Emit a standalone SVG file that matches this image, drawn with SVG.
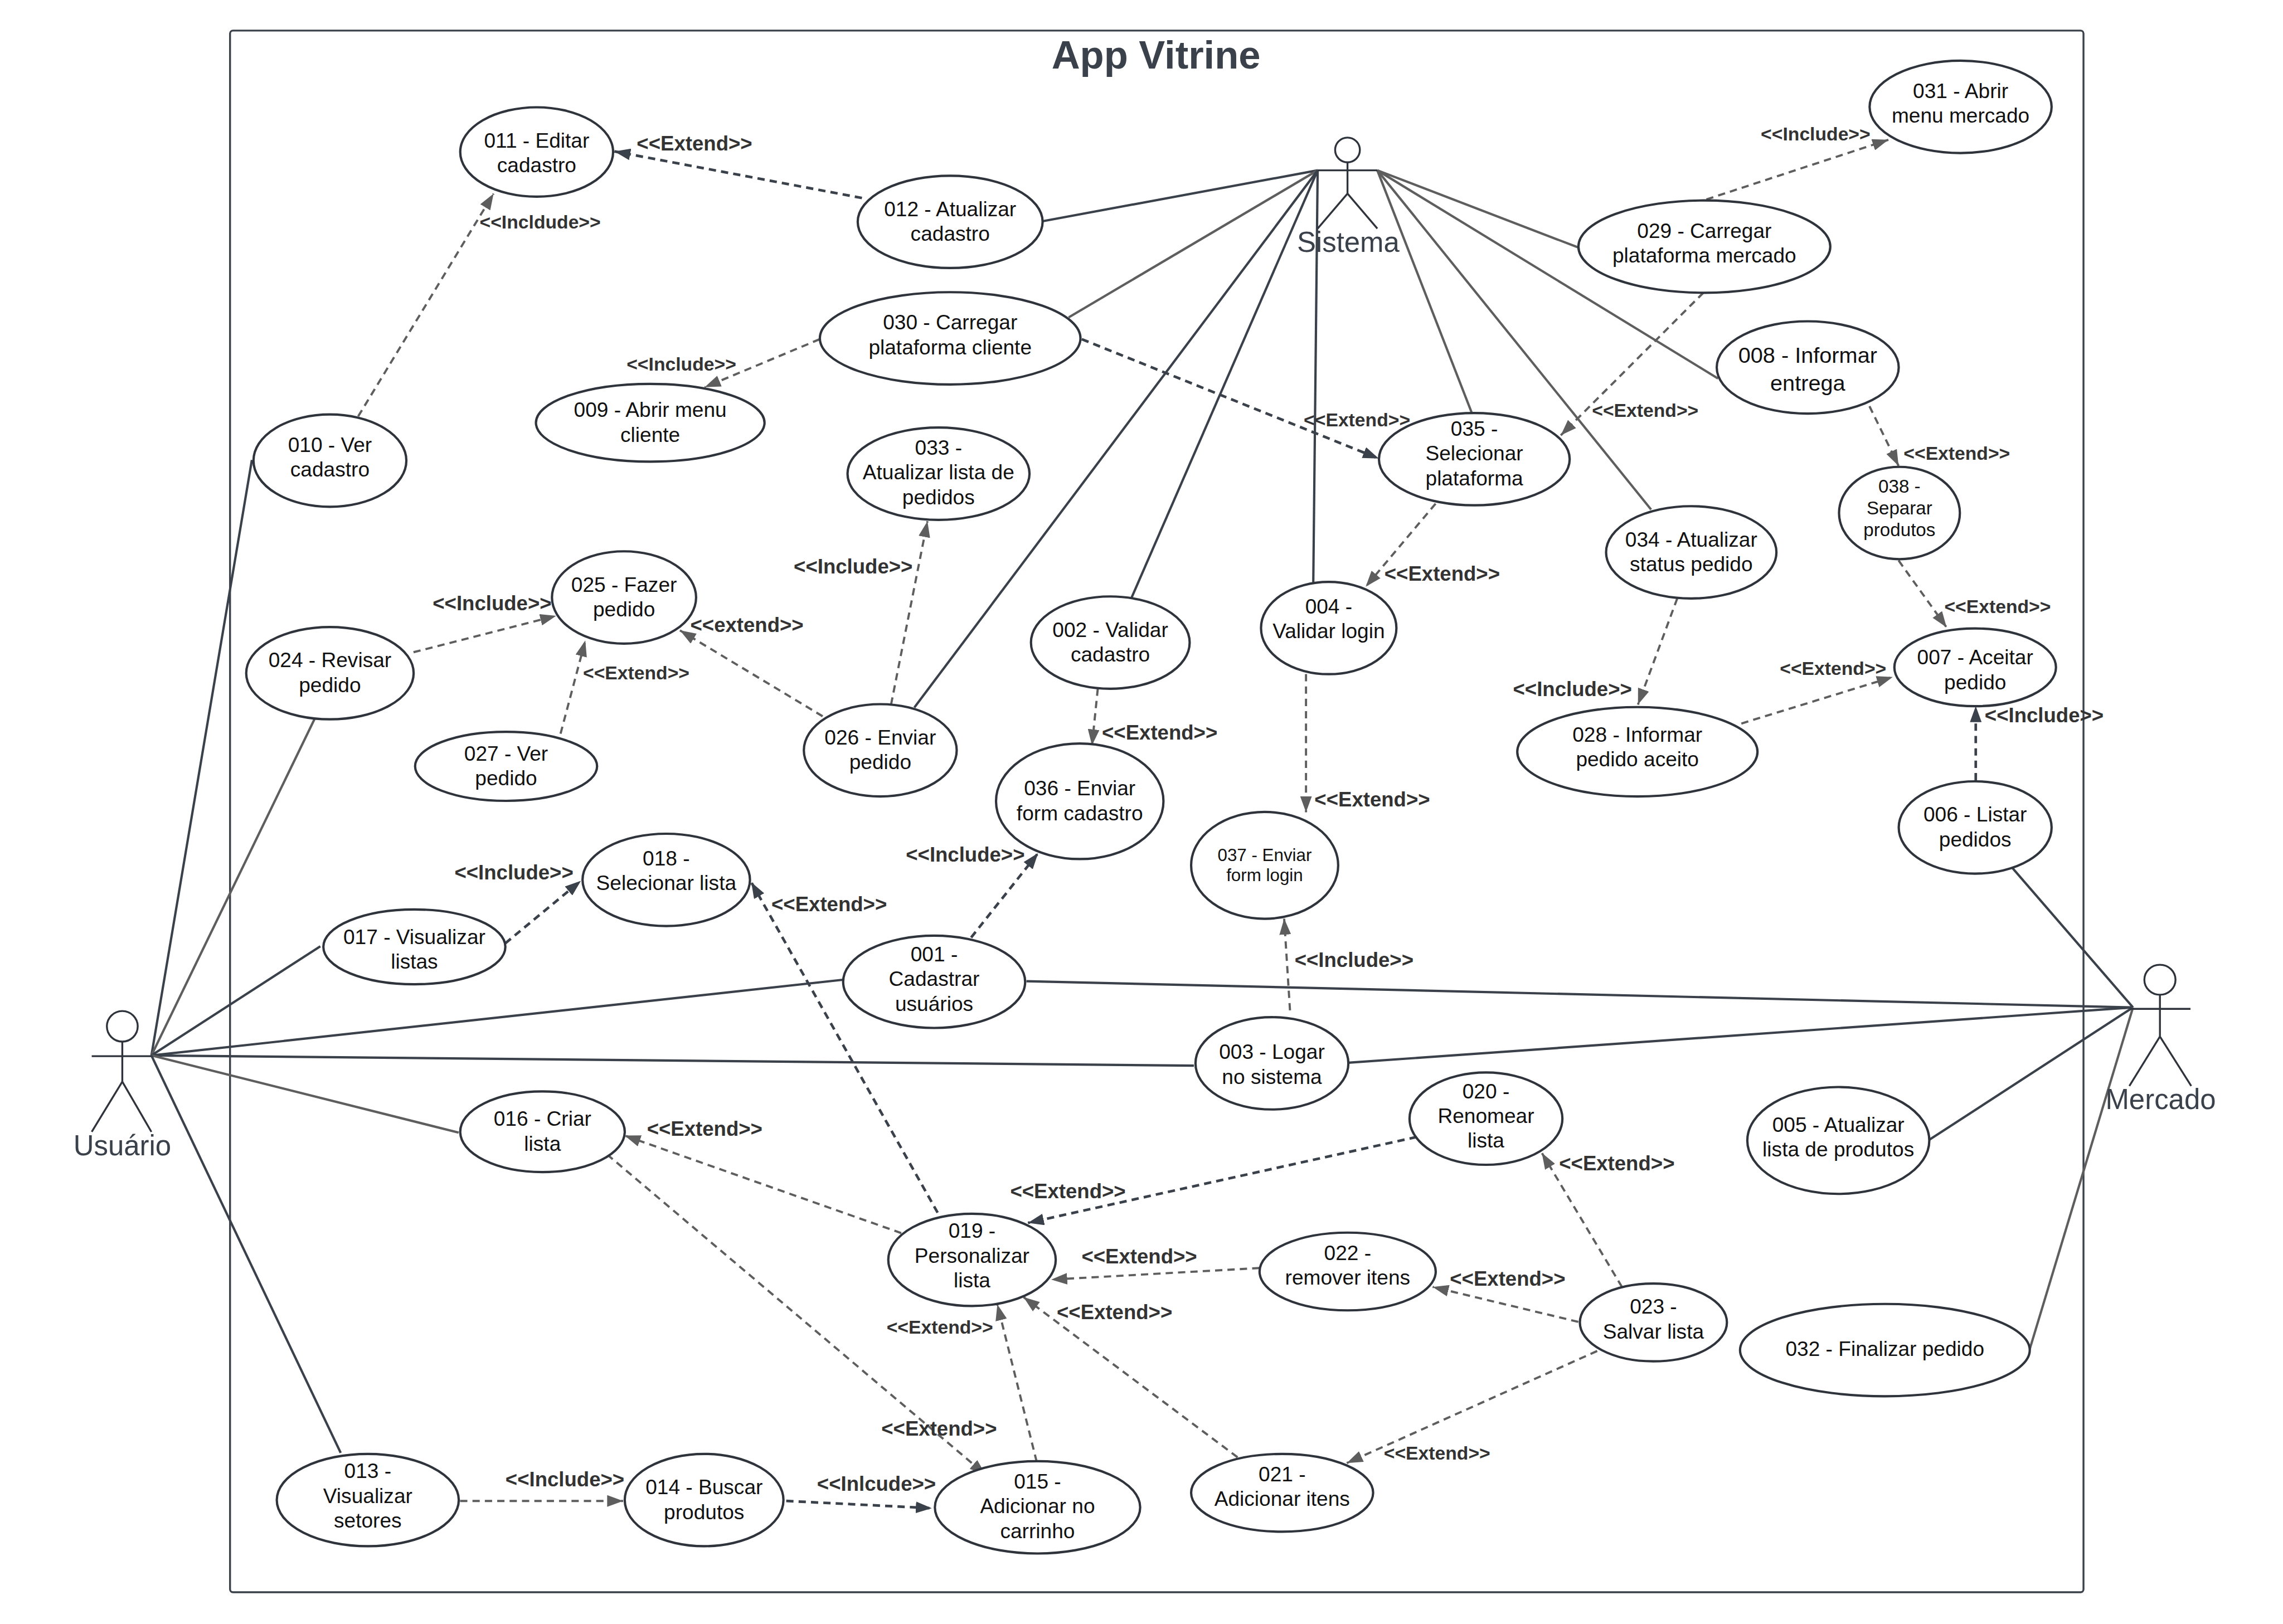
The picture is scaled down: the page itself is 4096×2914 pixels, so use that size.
<svg xmlns="http://www.w3.org/2000/svg" width="4096" height="2914" viewBox="0 0 4096 2914">
<style>
text{font-family:"Liberation Sans",Arial,sans-serif;text-anchor:middle}
.n ellipse{fill:#fff;stroke:#2f343c;stroke-width:1.6}
.n text{font-size:14.2px;fill:#111}
.a ellipse{fill:#fff;stroke:#2f343c;stroke-width:1.3}
.a line{stroke:#2f343c;stroke-width:1.3}
.a text{font-size:19.5px;fill:#3a414a}
.s line{stroke-width:1.6;fill:none}
.d{stroke:#3a414a}
.g{stroke:#5e5e5e}
.x line{stroke-width:1.5;stroke-dasharray:5 3.5;fill:none}
.x .d{marker-end:url(#ad);stroke-width:1.8}
.x .g{marker-end:url(#ag)}
.l text{font-weight:700;fill:#333;font-size:14px}
.l text.m{font-size:12.9px}
</style>
<defs>
<marker id="ad" markerUnits="userSpaceOnUse" markerWidth="11" markerHeight="8" refX="11" refY="4" orient="auto"><path d="M0,0L11,4L0,8z" fill="#3a414a"/></marker>
<marker id="ag" markerUnits="userSpaceOnUse" markerWidth="11" markerHeight="8" refX="11" refY="4" orient="auto"><path d="M0,0L11,4L0,8z" fill="#5e5e5e"/></marker>
</defs>
<rect width="4096" height="2914" fill="#fff"/>
<g transform="scale(2.6122)">
<g id="frame"><rect x="158" y="21" width="1273" height="1072.700" rx="2" fill="none" stroke="#3a414a" stroke-width="1.3"/>
<text x="794" y="47" font-size="27" font-weight="700" fill="#3a414a">App Vitrine</text></g>

<g id="connectors">
<g class="s">
<line class="d" x1="104" y1="725" x2="173" y2="316"/>
<line class="g" x1="104" y1="725" x2="216" y2="494"/>
<line class="d" x1="104" y1="725" x2="220" y2="650"/>
<line class="d" x1="104" y1="725" x2="579" y2="673"/>
<line class="d" x1="104" y1="725" x2="820" y2="732"/>
<line class="g" x1="104" y1="725" x2="315" y2="778"/>
<line class="d" x1="104" y1="725" x2="234" y2="998"/>
<line class="d" x1="905" y1="117" x2="716" y2="152"/>
<line class="g" x1="905" y1="117" x2="734" y2="218"/>
<line class="d" x1="905" y1="117" x2="628" y2="486"/>
<line class="d" x1="905" y1="117" x2="777" y2="411"/>
<line class="d" x1="905" y1="117" x2="902" y2="400"/>
<line class="g" x1="946" y1="117" x2="1011" y2="284"/>
<line class="g" x1="946" y1="117" x2="1134" y2="350"/>
<line class="g" x1="946" y1="117" x2="1180" y2="260"/>
<line class="g" x1="946" y1="117" x2="1084" y2="170"/>
<line class="d" x1="1465" y1="692" x2="1382" y2="596"/>
<line class="d" x1="1465" y1="692" x2="705" y2="674"/>
<line class="d" x1="1465" y1="692" x2="926" y2="730"/>
<line class="d" x1="1465" y1="692" x2="1325" y2="783"/>
<line class="g" x1="1465" y1="692" x2="1394" y2="927"/>
</g>
<g class="x">
<line class="g" x1="246" y1="286" x2="339" y2="133"/>
<line class="d" x1="592" y1="136" x2="422" y2="104"/>
<line class="g" x1="1172" y1="137" x2="1297" y2="96"/>
<line class="g" x1="563" y1="233" x2="484" y2="266"/>
<line class="d" x1="743" y1="233" x2="947" y2="315"/>
<line class="g" x1="1170" y1="201" x2="1072" y2="299"/>
<line class="g" x1="1284" y1="279" x2="1304" y2="320"/>
<line class="g" x1="1304" y1="385" x2="1337" y2="431"/>
<line class="g" x1="1152" y1="411" x2="1125" y2="484"/>
<line class="g" x1="1196" y1="497" x2="1300" y2="465"/>
<line class="d" x1="1357" y1="536" x2="1357" y2="485"/>
<line class="g" x1="986" y1="346" x2="938" y2="403"/>
<line class="g" x1="754" y1="473" x2="750" y2="512"/>
<line class="g" x1="897" y1="463" x2="897" y2="558"/>
<line class="g" x1="886" y1="694" x2="882" y2="631"/>
<line class="d" x1="667" y1="644" x2="713" y2="586"/>
<line class="g" x1="612" y1="484" x2="637" y2="358"/>
<line class="g" x1="565" y1="492" x2="467" y2="433"/>
<line class="g" x1="284" y1="448" x2="382" y2="423"/>
<line class="g" x1="385" y1="504" x2="402" y2="440"/>
<line class="d" x1="347" y1="648" x2="399" y2="605"/>
<line class="d" x1="644" y1="833" x2="516" y2="606"/>
<line class="g" x1="619" y1="847" x2="429" y2="780"/>
<line class="g" x1="417" y1="793" x2="677" y2="1013"/>
<line class="d" x1="973" y1="781" x2="706" y2="840"/>
<line class="g" x1="865" y1="871" x2="722" y2="879"/>
<line class="g" x1="850" y1="1001" x2="703" y2="891"/>
<line class="g" x1="712" y1="1004" x2="685" y2="896"/>
<line class="g" x1="1114" y1="884" x2="1059" y2="792"/>
<line class="g" x1="1084" y1="908" x2="984" y2="884"/>
<line class="g" x1="1097" y1="928" x2="925" y2="1005"/>
<line class="g" x1="316" y1="1031" x2="428" y2="1031"/>
<line class="d" x1="540" y1="1031" x2="640" y2="1036"/>
</g>
</g>

<g id="actor-usuario" class="a"><ellipse cx="84" cy="705" rx="10.600" ry="10.500"/><line x1="84" y1="715.500" x2="84" y2="743"/><line x1="63" y1="725.500" x2="104" y2="725.500"/><line x1="84" y1="743" x2="63" y2="777.500"/><line x1="84" y1="743" x2="104" y2="777.500"/><text x="84" y="793.500">Usuário</text></g>
<g id="actor-sistema" class="a"><ellipse cx="925.500" cy="103" rx="8.500" ry="8.500"/><line x1="925.500" y1="111.500" x2="925.500" y2="133"/><line x1="905" y1="117" x2="946" y2="117"/><line x1="925.500" y1="133" x2="905" y2="157"/><line x1="925.500" y1="133" x2="946" y2="157"/><text x="926" y="173">Sistema</text></g>
<g id="actor-mercado" class="a"><ellipse cx="1483.500" cy="673" rx="10.700" ry="10.300"/><line x1="1483.500" y1="683.500" x2="1483.500" y2="712"/><line x1="1463" y1="693" x2="1504.500" y2="693"/><line x1="1483.500" y1="712" x2="1462.500" y2="746"/><line x1="1483.500" y1="712" x2="1505" y2="746"/><text x="1484" y="762">Mercado</text></g>

<g id="nodes" class="n" transform="translate(.6 .4)">
<g id="uc011"><ellipse cx="368" cy="104" rx="52.500" ry="30.700"/><text x="368" y="101">011 - Editar</text><text x="368" y="118">cadastro</text></g>
<g id="uc012"><ellipse cx="652" cy="152" rx="63.500" ry="31.700"/><text x="652" y="148">012 - Atualizar</text><text x="652" y="165">cadastro</text></g>
<g id="uc031"><ellipse cx="1346" cy="73" rx="62.500" ry="31.700"/><text x="1346" y="67">031 - Abrir</text><text x="1346" y="84">menu mercado</text></g>
<g id="uc029"><ellipse cx="1170" cy="169" rx="86.500" ry="31.700"/><text x="1170" y="163">029 - Carregar</text><text x="1170" y="180">plataforma mercado</text></g>
<g id="uc030"><ellipse cx="652" cy="232" rx="89.500" ry="31.700"/><text x="652" y="226">030 - Carregar</text><text x="652" y="243">plataforma cliente</text></g>
<g id="uc009"><ellipse cx="446" cy="290" rx="78.500" ry="26.700"/><text x="446" y="286">009 - Abrir menu</text><text x="446" y="303">cliente</text></g>
<g id="uc008"><ellipse cx="1241" cy="252" rx="62.500" ry="31.700"/><text x="1241" y="249" style="font-size:15.200px">008 - Informar</text><text x="1241" y="268" style="font-size:15.200px">entrega</text></g>
<g id="uc010"><ellipse cx="226" cy="316" rx="52.500" ry="31.700"/><text x="226" y="310">010 - Ver</text><text x="226" y="327">cadastro</text></g>
<g id="uc033"><ellipse cx="644" cy="325" rx="62.500" ry="31.700"/><text x="644" y="312">033 -</text><text x="644" y="329">Atualizar lista de</text><text x="644" y="346">pedidos</text></g>
<g id="uc035"><ellipse cx="1012" cy="315" rx="65.500" ry="31.700"/><text x="1012" y="299">035 -</text><text x="1012" y="316">Selecionar</text><text x="1012" y="333">plataforma</text></g>
<g id="uc038"><ellipse cx="1304" cy="352" rx="41.500" ry="31.700"/><text x="1304" y="338" style="font-size:12.700px">038 -</text><text x="1304" y="353" style="font-size:12.700px">Separar</text><text x="1304" y="368" style="font-size:12.700px">produtos</text></g>
<g id="uc034"><ellipse cx="1161" cy="379" rx="58.500" ry="31.700"/><text x="1161" y="375">034 - Atualizar</text><text x="1161" y="392">status pedido</text></g>
<g id="uc025"><ellipse cx="428" cy="410" rx="49.500" ry="31.700"/><text x="428" y="406">025 - Fazer</text><text x="428" y="423">pedido</text></g>
<g id="uc024"><ellipse cx="226" cy="462" rx="57.500" ry="31.700"/><text x="226" y="458">024 - Revisar</text><text x="226" y="475">pedido</text></g>
<g id="uc002"><ellipse cx="762" cy="441" rx="54.500" ry="31.700"/><text x="762" y="437">002 - Validar</text><text x="762" y="454">cadastro</text></g>
<g id="uc004"><ellipse cx="912" cy="431" rx="46.500" ry="31.700"/><text x="912" y="421">004 -</text><text x="912" y="438">Validar login</text></g>
<g id="uc007"><ellipse cx="1356" cy="458" rx="55.500" ry="26.700"/><text x="1356" y="456">007 - Aceitar</text><text x="1356" y="473">pedido</text></g>
<g id="uc027"><ellipse cx="347" cy="526" rx="62.500" ry="23.700"/><text x="347" y="522">027 - Ver</text><text x="347" y="539">pedido</text></g>
<g id="uc026"><ellipse cx="604" cy="515" rx="52.500" ry="31.700"/><text x="604" y="511">026 - Enviar</text><text x="604" y="528">pedido</text></g>
<g id="uc028"><ellipse cx="1124" cy="516" rx="82.500" ry="30.700"/><text x="1124" y="509">028 - Informar</text><text x="1124" y="526">pedido aceito</text></g>
<g id="uc036"><ellipse cx="741" cy="550" rx="57.500" ry="39.700"/><text x="741" y="546">036 - Enviar</text><text x="741" y="563">form cadastro</text></g>
<g id="uc006"><ellipse cx="1356" cy="568" rx="52.500" ry="31.700"/><text x="1356" y="564">006 - Listar</text><text x="1356" y="581">pedidos</text></g>
<g id="uc037"><ellipse cx="868" cy="594" rx="50.500" ry="36.700"/><text x="868" y="591" style="font-size:12px">037 - Enviar</text><text x="868" y="605" style="font-size:12px">form login</text></g>
<g id="uc018"><ellipse cx="457" cy="604" rx="57.500" ry="31.700"/><text x="457" y="594">018 -</text><text x="457" y="611">Selecionar lista</text></g>
<g id="uc017"><ellipse cx="284" cy="650" rx="62.500" ry="25.700"/><text x="284" y="648">017 - Visualizar</text><text x="284" y="665">listas</text></g>
<g id="uc001"><ellipse cx="641" cy="674" rx="62.500" ry="31.700"/><text x="641" y="660">001 -</text><text x="641" y="677">Cadastrar</text><text x="641" y="694">usuários</text></g>
<g id="uc003"><ellipse cx="873" cy="730" rx="52.500" ry="31.700"/><text x="873" y="727">003 - Logar</text><text x="873" y="744">no sistema</text></g>
<g id="uc020"><ellipse cx="1020" cy="768" rx="52.500" ry="31.700"/><text x="1020" y="754">020 -</text><text x="1020" y="771">Renomear</text><text x="1020" y="788">lista</text></g>
<g id="uc016"><ellipse cx="372" cy="777" rx="56.500" ry="27.700"/><text x="372" y="773">016 - Criar</text><text x="372" y="790">lista</text></g>
<g id="uc005"><ellipse cx="1262" cy="783" rx="62.500" ry="36.700"/><text x="1262" y="777">005 - Atualizar</text><text x="1262" y="794">lista de produtos</text></g>
<g id="uc019"><ellipse cx="667" cy="865" rx="57.500" ry="31.700"/><text x="667" y="850">019 -</text><text x="667" y="867">Personalizar</text><text x="667" y="884">lista</text></g>
<g id="uc022"><ellipse cx="925" cy="873" rx="60.500" ry="26.700"/><text x="925" y="865">022 -</text><text x="925" y="882">remover itens</text></g>
<g id="uc023"><ellipse cx="1135" cy="908" rx="50.500" ry="26.700"/><text x="1135" y="902">023 -</text><text x="1135" y="919">Salvar lista</text></g>
<g id="uc032"><ellipse cx="1294" cy="927" rx="99.500" ry="31.700"/><text x="1294" y="931">032 - Finalizar pedido</text></g>
<g id="uc013"><ellipse cx="252" cy="1030" rx="62.500" ry="31.700"/><text x="252" y="1015">013 -</text><text x="252" y="1032">Visualizar</text><text x="252" y="1049">setores</text></g>
<g id="uc014"><ellipse cx="483" cy="1030" rx="54.500" ry="31.700"/><text x="483" y="1026">014 - Buscar</text><text x="483" y="1043">produtos</text></g>
<g id="uc015"><ellipse cx="712" cy="1035" rx="70.500" ry="31.700"/><text x="712" y="1022">015 -</text><text x="712" y="1039">Adicionar no</text><text x="712" y="1056">carrinho</text></g>
<g id="uc021"><ellipse cx="880" cy="1025" rx="62.500" ry="26.700"/><text x="880" y="1017">021 -</text><text x="880" y="1034">Adicionar itens</text></g>
</g>

<g id="labels" class="l">
<text x="477" y="103.500">&lt;&lt;Extend&gt;&gt;</text>
<text class="m" x="371" y="157">&lt;&lt;Incldude&gt;&gt;</text>
<text class="m" x="1247" y="96.500">&lt;&lt;Include&gt;&gt;</text>
<text class="m" x="932" y="293">&lt;&lt;Extend&gt;&gt;</text>
<text class="m" x="468" y="254.500">&lt;&lt;Include&gt;&gt;</text>
<text class="m" x="1130" y="286.500">&lt;&lt;Extend&gt;&gt;</text>
<text class="m" x="1344" y="316">&lt;&lt;Extend&gt;&gt;</text>
<text class="m" x="1372" y="421">&lt;&lt;Extend&gt;&gt;</text>
<text class="m" x="1259" y="463.500">&lt;&lt;Extend&gt;&gt;</text>
<text x="1080" y="478">&lt;&lt;Include&gt;&gt;</text>
<text x="1404" y="496">&lt;&lt;Include&gt;&gt;</text>
<text x="586" y="394">&lt;&lt;Include&gt;&gt;</text>
<text x="513" y="434">&lt;&lt;extend&gt;&gt;</text>
<text x="338" y="419">&lt;&lt;Include&gt;&gt;</text>
<text class="m" x="437" y="466.500">&lt;&lt;Extend&gt;&gt;</text>
<text x="990.500" y="399">&lt;&lt;Extend&gt;&gt;</text>
<text x="796.500" y="508">&lt;&lt;Extend&gt;&gt;</text>
<text x="942.500" y="554">&lt;&lt;Extend&gt;&gt;</text>
<text x="663" y="592">&lt;&lt;Include&gt;&gt;</text>
<text x="353" y="604">&lt;&lt;Include&gt;&gt;</text>
<text x="569.500" y="626">&lt;&lt;Extend&gt;&gt;</text>
<text x="930" y="664">&lt;&lt;Include&gt;&gt;</text>
<text x="484" y="780">&lt;&lt;Extend&gt;&gt;</text>
<text x="733.500" y="823">&lt;&lt;Extend&gt;&gt;</text>
<text x="782.500" y="868">&lt;&lt;Extend&gt;&gt;</text>
<text x="1035.500" y="883">&lt;&lt;Extend&gt;&gt;</text>
<text x="1110.500" y="804">&lt;&lt;Extend&gt;&gt;</text>
<text x="765.500" y="906">&lt;&lt;Extend&gt;&gt;</text>
<text class="m" x="645.500" y="916">&lt;&lt;Extend&gt;&gt;</text>
<text x="645" y="986">&lt;&lt;Extend&gt;&gt;</text>
<text class="m" x="987" y="1002.500">&lt;&lt;Extend&gt;&gt;</text>
<text x="388" y="1021">&lt;&lt;Include&gt;&gt;</text>
<text x="602" y="1024">&lt;&lt;Inlcude&gt;&gt;</text>
</g>
</g>
</svg>
